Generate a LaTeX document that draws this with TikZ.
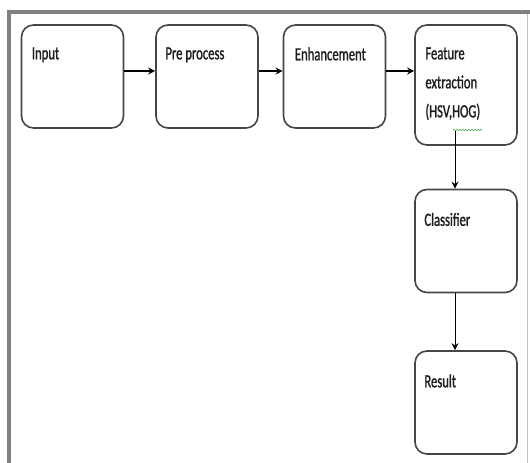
\documentclass[tikz,border=0pt]{standalone}
\usepackage{fontspec}
\setmainfont{Carlito}[FakeStretch=0.68,FakeBold=1.2]
\usepackage{tikz}
\usetikzlibrary{arrows.meta,positioning,decorations.pathmorphing}
\definecolor{fgframe}{RGB}{128,128,128}
\definecolor{fgedge}{RGB}{70,70,70}
\definecolor{fgtext}{RGB}{30,30,30}
\definecolor{fgspell}{RGB}{90,170,90}
\tikzstyle{arrow} = [-{Stealth[length=7pt,width=7pt]},color=black]
\tikzstyle{stage} = [rectangle, rounded corners=12pt, minimum width=102pt, minimum height=103pt, draw=fgedge, line width=1.6pt, fill=white]
\tikzstyle{stagetext} = [anchor=north west, inner sep=0pt, align=left, text=fgtext, font=\fontsize{18.6}{29}\selectfont]

\begin{document}
\begin{tikzpicture}[x=1pt,y=-1pt]
    \useasboundingbox (0,0) rectangle (530,463);

    % Frame
    \draw[fgframe, line width=4pt] (9,463) -- (9,12) -- (530,12);
    \draw[fgframe!50, line width=0.8pt] (527,14) -- (527,463);

    % Top row
    \node[stage] (input) at (72.5,76.5) {};
    \node[stage] (pre) at (207,76.5) {};
    \node[stage] (enh) at (334.5,76.5) {};
    \node[stage, minimum height=120pt] (feat) at (466,85) {};

    % Right column
    \node[stage] (class) at (466,241) {};
    \node[stage] (result) at (466,402.5) {};

    % Texts
    \node[stagetext] (inputtxt) at ([shift={(11pt,-23pt)}]input.north west) {Input};
    \node[stagetext] (pretxt) at ([shift={(10pt,-23pt)}]pre.north west) {Pre process};
    \node[stagetext] (enhtxt) at ([shift={(12pt,-23pt)}]enh.north west) {Enhancement};
    \node[stagetext] (feattxt) at ([shift={(11pt,-23pt)}]feat.north west) {Feature\\extraction\\(HSV,HOG)};
    \node[stagetext] (classtxt) at ([shift={(10pt,-24pt)}]class.north west) {Classifier};
    \node[stagetext] (resulttxt) at ([shift={(10pt,-24pt)}]result.north west) {Result};

    % Spelling mark
    \draw[fgspell, line width=0.6pt, decorate, decoration={snake, amplitude=0.8pt, segment length=3pt}] (453,130) -- (482,130);

    % Arrows
    \draw[arrow, line width=2pt] ([yshift=5.5pt]input.east) -- ([yshift=5.5pt]pre.west);
    \draw[arrow, line width=2pt] ([yshift=5.5pt]pre.east) -- ([yshift=5.5pt]enh.west);
    \draw[arrow, line width=2pt] ([yshift=5.5pt]enh.east) -- ([yshift=14pt]feat.west);
    \draw[arrow, line width=0.9pt] ([xshift=-11pt,yshift=15pt]feat.south) -- ([xshift=-11pt]class.north);
    \draw[arrow, line width=0.9pt] ([xshift=-11pt]class.south) -- ([xshift=-11pt]result.north);
\end{tikzpicture}
\end{document}
